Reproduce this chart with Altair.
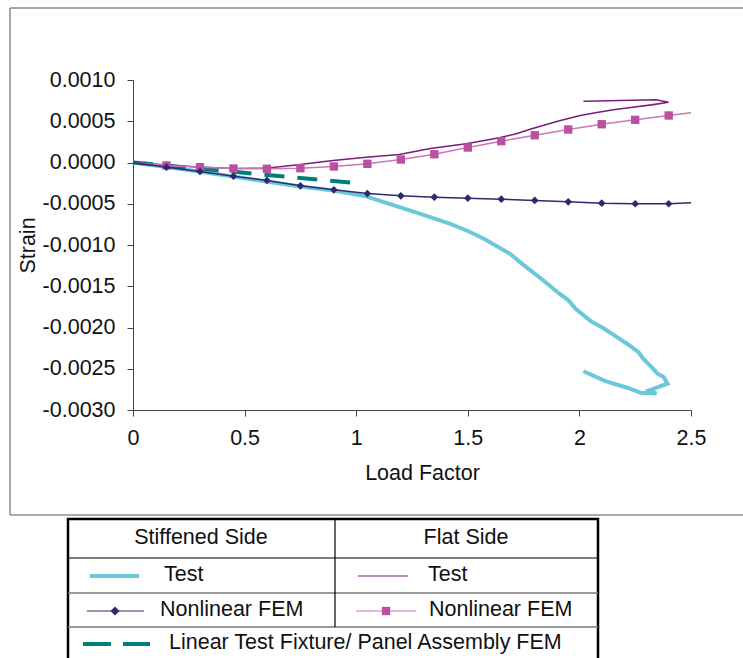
import altair as alt
import pandas as pd

FONT = "Liberation Sans"
FS = 21.5

# ---------------- data ----------------
# Stiffened side - Test
st_test_lf = [0, 0.148, 0.296, 0.448, 0.596, 0.749, 0.897, 1.045, 1.152, 1.274, 1.422, 1.500, 1.570,
              1.691, 1.735, 1.839, 1.901, 1.951, 1.982, 2.049, 2.108, 2.170, 2.215, 2.265, 2.287,
              2.309, 2.327, 2.350, 2.377, 2.395, 2.314, 2.345, 2.274, 2.214, 2.117, 2.018]
st_test_strain = [0, -0.0000545, -0.000109, -0.00017, -0.00023, -0.00029, -0.00034, -0.00041,
                  -0.000505, -0.00061, -0.000745, -0.00083, -0.00092, -0.00111, -0.00121, -0.00143,
                  -0.00157, -0.00167, -0.00177, -0.00192, -0.00201, -0.00212, -0.00220, -0.00230,
                  -0.00238, -0.00244, -0.00249, -0.00256, -0.00260, -0.00268, -0.00276, -0.00280,
                  -0.00279, -0.00273, -0.00265, -0.00253]

# Flat side - Test
fl_test_lf = [0, 0.148, 0.296, 0.448, 0.596, 0.749, 0.897, 1.045, 1.193, 1.332, 1.493, 1.641,
              1.717, 1.794, 1.915, 2.004, 2.072, 2.152, 2.238, 2.323, 2.399, 2.345, 2.018]
fl_test_strain = [0, -0.00003, -0.000055, -0.000073, -0.000069, -0.000024, 0.000024, 0.000064,
                  0.000097, 0.00017, 0.000227, 0.000299, 0.000348, 0.000416, 0.000509, 0.00057,
                  0.000602, 0.000639, 0.00067, 0.000699, 0.000731, 0.00076, 0.000743]

# Nonlinear FEM (both sides share load steps)
fem_lf = [0, 0.15, 0.3, 0.45, 0.6, 0.75, 0.9, 1.05, 1.2, 1.35, 1.5, 1.65, 1.8, 1.95, 2.1, 2.25, 2.4, 2.5]
st_fem_strain = [0, -0.000057, -0.000109, -0.000166, -0.000218, -0.000282, -0.000331, -0.000376,
                 -0.000404, -0.00042, -0.000433, -0.000445, -0.00046, -0.000476, -0.000493,
                 -0.0005, -0.0005, -0.000488]
fl_fem_strain = [0, -0.000036, -0.000057, -0.000073, -0.000076, -0.000069, -0.000048, -0.000016,
                 0.000036, 0.0001, 0.000182, 0.000258, 0.00033, 0.0004, 0.000464, 0.000517,
                 0.00057, 0.000602]
marker_on = [False] + [True] * 16 + [False]

# Linear test fixture / panel assembly FEM
lin_lf = [0, 1.0]
lin_strain = [0, -0.00025]

x_ticks = [0, 0.5, 1, 1.5, 2, 2.5]
y_ticks = [-0.003, -0.0025, -0.002, -0.0015, -0.001, -0.0005, 0, 0.0005, 0.001]

# ---------------- colours ----------------
C_CYAN = "#6BC8DA"
C_PURPLE = "#7A1D7C"
C_NAVY = "#2D2A70"
C_PINK_LINE = "#C879B9"
C_PINK = "#BD4FA0"
C_TEAL = "#007E7C"

W, H = 558, 330

xs = alt.Scale(domain=[0, 2.5], nice=False, zero=False)
ys = alt.Scale(domain=[-0.003, 0.001], nice=False, zero=False)

xaxis = alt.Axis(values=x_ticks, format="~g", title="Load Factor", grid=False,
                 labelFontSize=FS, titleFontSize=FS, labelFont=FONT, titleFont=FONT,
                 labelColor="#111", titleColor="#111", titleFontWeight="normal",
                 domainColor="#444", tickColor="#444", tickSize=6, labelPadding=11,
                 titleX=289, titleY=63, titleBaseline="middle", titleAlign="center",
                 labelFlush=False)
yaxis = alt.Axis(values=y_ticks, title="Strain", grid=False,
                 labelExpr="replace(format(datum.value, '.4f'), '\u2212', '-')",
                 labelFontSize=FS, titleFontSize=FS, labelFont=FONT, titleFont=FONT,
                 labelColor="#111", titleColor="#111", titleFontWeight="normal",
                 domainColor="#444", tickColor="#444", tickSize=6, labelPadding=12,
                 titleX=-105, titleY=165, titleAngle=-90, titleBaseline="middle",
                 titleAlign="center", labelFlush=False)


def df(lf, s, extra=None):
    d = pd.DataFrame({"lf": lf, "strain": s, "i": range(len(lf))})
    if extra is not None:
        d["m"] = extra
    return d


def line(d, color, width, dash=None):
    kw = dict(color=color, strokeWidth=width, clip=False)
    if dash:
        kw["strokeDash"] = dash
    return alt.Chart(d).mark_line(**kw).encode(
        x=alt.X("lf:Q", scale=xs, axis=xaxis),
        y=alt.Y("strain:Q", scale=ys, axis=yaxis),
        order="i:Q")


st_test = line(df(st_test_lf, st_test_strain), C_CYAN, 4)
fl_test = line(df(fl_test_lf, fl_test_strain), C_PURPLE, 1.6)
lin = line(df(lin_lf, lin_strain), C_TEAL, 4, [20, 13])

st_fem_df = df(fem_lf, st_fem_strain, marker_on)
fl_fem_df = df(fem_lf, fl_fem_strain, marker_on)
st_fem_l = line(st_fem_df, C_NAVY, 1.5)
fl_fem_l = line(fl_fem_df, C_PINK_LINE, 1.5)
st_fem_p = alt.Chart(st_fem_df).mark_point(shape="diamond", filled=True, size=60,
                                           color=C_NAVY, opacity=1).encode(
    x="lf:Q", y="strain:Q").transform_filter("datum.m")
fl_fem_p = alt.Chart(fl_fem_df).mark_point(shape="square", filled=True, size=70,
                                           color=C_PINK, opacity=1).encode(
    x="lf:Q", y="strain:Q").transform_filter("datum.m")

# ---------------- frame & legend table (decorations, pixel offsets from plot origin) ----------------
one = pd.DataFrame({"k": [0]})


def rect(x1, x2, y1, y2, stroke, sw):
    return alt.Chart(one).mark_rect(fill="transparent", stroke=stroke, strokeWidth=sw).encode(
        x=alt.value(x1), x2=alt.value(x2), y=alt.value(y1), y2=alt.value(y2))


def rule(x1, x2, y1, y2, color, sw, dash=None):
    kw = dict(color=color, strokeWidth=sw)
    if dash:
        kw["strokeDash"] = dash
    return alt.Chart(one).mark_rule(**kw).encode(
        x=alt.value(x1), x2=alt.value(x2), y=alt.value(y1), y2=alt.value(y2))


def text(t, x, y, align="left"):
    return alt.Chart(one).mark_text(text=t, align=align, baseline="middle", fontSize=FS,
                                    font=FONT, color="#111").encode(
        x=alt.value(x), y=alt.value(y))


def sym(shape, x, y, color, size):
    return alt.Chart(one).mark_point(shape=shape, filled=True, size=size, color=color,
                                     opacity=1).encode(x=alt.value(x), y=alt.value(y))


deco = [
    # outer chart frame: top, left, bottom (right edge falls outside the page)
    rule(-123, 640, -72, -72, "#555", 1),
    rule(-123, -123, -72, 435, "#555", 1),
    rule(-123, 640, 435, 435, "#555", 1),
    # legend table
    rect(-65, 465, 439, 600, "#000", 2.5),
    rule(-65, 465, 478, 478, "#000", 1.2),
    rule(-65, 465, 513, 513, "#777", 1.5),
    rule(-65, 465, 547, 547, "#777", 1.5),
    rule(202, 202, 439, 547, "#000", 1.2),
    text("Stiffened Side", 68, 458, "center"),
    text("Flat Side", 333, 458, "center"),
    rule(-43, 6, 496, 496, C_CYAN, 4),
    text("Test", 31, 495),
    rule(225, 275, 496, 496, C_PURPLE, 1.2),
    text("Test", 295, 495),
    rule(-46, 11, 531, 531, C_NAVY, 1.2),
    sym("diamond", -18, 531, C_NAVY, 80),
    text("Nonlinear FEM", 27, 530),
    rule(223, 283, 531, 531, C_PINK_LINE, 1.2),
    sym("square", 253, 531, C_PINK, 70),
    text("Nonlinear FEM", 296, 530),
    rule(-50, 17, 564, 564, C_TEAL, 4, [28, 12]),
    text("Linear Test Fixture/ Panel Assembly FEM", 36, 563),
]

chart = alt.layer(st_test, lin, fl_test, fl_fem_l, fl_fem_p, st_fem_l, st_fem_p, *deco).properties(
    width=W, height=H,
    autosize=alt.AutoSizeParams(type="none"),
    padding={"left": 133, "top": 80, "right": 52, "bottom": 248},
    background="white",
).configure_view(strokeWidth=0)

chart.save("out.html", embed_options={"renderer": "svg", "actions": False})
